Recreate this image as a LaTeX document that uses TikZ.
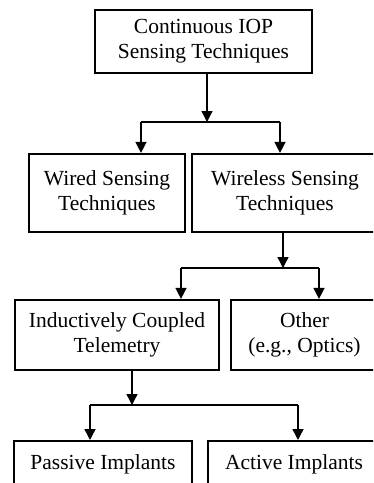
\documentclass[tikz,border=0pt]{standalone}
\usepackage{fontspec}
\setmainfont{Liberation Serif}
\usetikzlibrary{arrows.meta}
\begin{document}
\begin{tikzpicture}[x=1pt,y=-1pt,
  box/.style={draw,line width=2.2pt,inner sep=0pt,align=center,font=\fontsize{21.5}{25}\selectfont},
  arr/.style={line width=1.4pt,-{Triangle[length=11pt,width=11pt]}},
  ln/.style={line width=1.4pt}]
\useasboundingbox (0,0) rectangle (373,483);
\clip (0,0) rectangle (373,483);
\node[box,minimum width=217pt,minimum height=63pt] (top) at (203.5,41.5) {Continuous IOP\\Sensing Techniques};
\node[box,minimum width=156pt,minimum height=78pt] (wired) at (107,193) {Wired Sensing\\Techniques};
\node[box,minimum width=186pt,minimum height=78pt] (wireless) at (285,193) {Wireless Sensing\\Techniques};
\node[box,minimum width=204pt,minimum height=70pt] (ind) at (117,335) {Inductively Coupled\\Telemetry};
\node[box,minimum width=147pt,minimum height=70pt] (other) at (304.5,335) {Other\\(e.g., Optics)};
\node[box,minimum width=178pt,minimum height=46pt,anchor=north] (passive) at (103,440) {Passive Implants};
\node[box,minimum width=172pt,minimum height=46pt,anchor=north] (active) at (294,440) {Active Implants};
\coordinate (j1) at (207,122);
\coordinate (j1l) at (141,122);
\coordinate (j1r) at (280,122);
\coordinate (j2) at (283,268);
\coordinate (j2l) at (181,268);
\coordinate (j2r) at (319,268);
\coordinate (j3) at (132,405);
\coordinate (j3l) at (90,405);
\coordinate (j3r) at (298,405);
\draw[arr] (top.south -| j1) -- (j1);
\draw[ln] (j1l) -- (j1r);
\draw[arr] (j1l) -- (wired.north -| j1l);
\draw[arr] (j1r) -- (wireless.north -| j1r);
\draw[arr] (wireless.south -| j2) -- (j2);
\draw[ln] (j2l) -- (j2r);
\draw[arr] (j2l) -- (ind.north -| j2l);
\draw[arr] (j2r) -- (other.north -| j2r);
\draw[arr] (ind.south -| j3) -- (j3);
\draw[ln] (j3l) -- (j3r);
\draw[arr] (j3l) -- (passive.north -| j3l);
\draw[arr] (j3r) -- (active.north -| j3r);
\end{tikzpicture}
\end{document}
